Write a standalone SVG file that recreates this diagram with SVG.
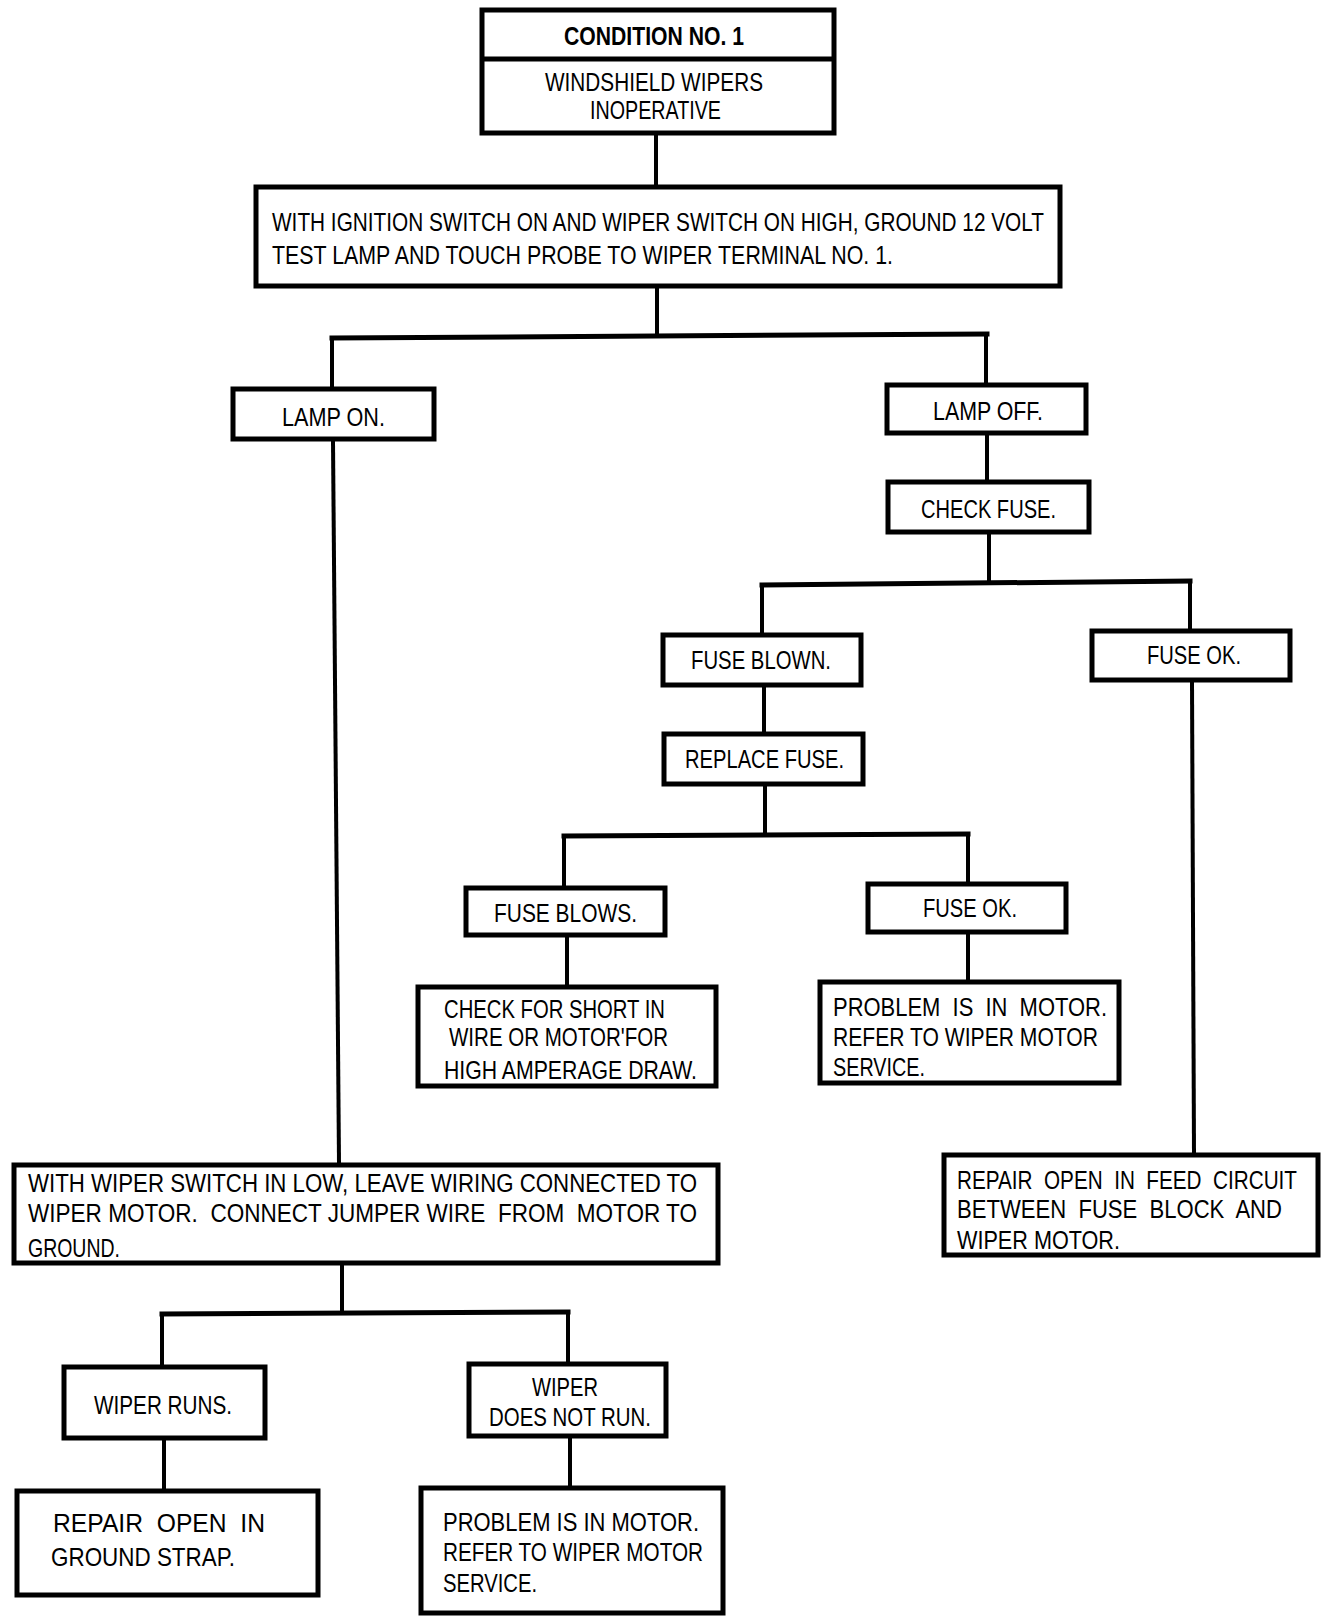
<svg xmlns="http://www.w3.org/2000/svg" width="1328" height="1622" viewBox="0 0 1328 1622">
<style>
rect{fill:#fff;stroke:#000;stroke-width:5}
.c line,.c path{stroke:#000;stroke-width:4;fill:none;stroke-linecap:square}
text{font-family:"Liberation Sans Narrow","Liberation Sans",Arial,sans-serif;font-size:25px;fill:#000}
.b{font-weight:bold}
</style>
<rect x="0" y="0" width="1328" height="1622" style="stroke:none"/>
<g class="c" id="connectors">
<line x1="656" y1="135" x2="656" y2="185"/>
<line x1="657" y1="288" x2="657" y2="336"/>
<line x1="332" y1="338" x2="987" y2="334" style="stroke-width:5"/>
<line x1="332" y1="338" x2="332" y2="387"/>
<line x1="986" y1="334" x2="986" y2="383"/>
<line x1="987" y1="435" x2="987" y2="480"/>
<line x1="989" y1="534" x2="989" y2="583"/>
<line x1="762" y1="585" x2="1190" y2="581" style="stroke-width:5"/>
<line x1="762" y1="585" x2="762" y2="633"/>
<line x1="1190" y1="581" x2="1190" y2="629"/>
<line x1="764" y1="687" x2="764" y2="732"/>
<line x1="765" y1="786" x2="765" y2="835"/>
<line x1="564" y1="836" x2="968" y2="834" style="stroke-width:5"/>
<line x1="564" y1="836" x2="564" y2="886"/>
<line x1="968" y1="834" x2="968" y2="882"/>
<line x1="567" y1="937" x2="567" y2="985"/>
<line x1="968" y1="934" x2="968" y2="980"/>
<line x1="333" y1="441" x2="339" y2="1163"/>
<line x1="1192" y1="682" x2="1194" y2="1153"/>
<line x1="342" y1="1265" x2="342" y2="1313"/>
<line x1="162" y1="1314" x2="568" y2="1312" style="stroke-width:5"/>
<line x1="162" y1="1314" x2="162" y2="1365"/>
<line x1="568" y1="1312" x2="568" y2="1362"/>
<line x1="164" y1="1440" x2="164" y2="1489"/>
<line x1="570" y1="1438" x2="570" y2="1486"/>
</g>
<g id="condition">
<rect x="482" y="10" width="352" height="123"/>
<line x1="482" y1="59" x2="834" y2="59" style="stroke:#000;stroke-width:5"/>
<text class="b" x="564" y="45" textLength="180" lengthAdjust="spacingAndGlyphs">CONDITION NO. 1</text>
<text x="545" y="91" textLength="218" lengthAdjust="spacingAndGlyphs">WINDSHIELD WIPERS</text>
<text x="590" y="119" textLength="131" lengthAdjust="spacingAndGlyphs">INOPERATIVE</text>
</g>
<g id="test">
<rect x="256" y="187" width="804" height="99"/>
<text x="272" y="231" textLength="772" lengthAdjust="spacingAndGlyphs">WITH IGNITION SWITCH ON AND WIPER SWITCH ON HIGH, GROUND 12 VOLT</text>
<text x="272" y="264" textLength="621" lengthAdjust="spacingAndGlyphs">TEST LAMP AND TOUCH PROBE TO WIPER TERMINAL NO. 1.</text>
</g>
<g id="lampon">
<rect x="233" y="389" width="201" height="50"/>
<text x="282" y="426" textLength="103" lengthAdjust="spacingAndGlyphs">LAMP ON.</text>
</g>
<g id="lampoff">
<rect x="887" y="385" width="199" height="48"/>
<text x="933" y="420" textLength="110" lengthAdjust="spacingAndGlyphs">LAMP OFF.</text>
</g>
<g id="checkfuse">
<rect x="888" y="482" width="201" height="50"/>
<text x="921" y="518" textLength="135" lengthAdjust="spacingAndGlyphs">CHECK FUSE.</text>
</g>
<g id="fuseblown">
<rect x="663" y="635" width="198" height="50"/>
<text x="691" y="669" textLength="140" lengthAdjust="spacingAndGlyphs">FUSE BLOWN.</text>
</g>
<g id="fuseok1">
<rect x="1092" y="631" width="198" height="49"/>
<text x="1147" y="664" textLength="94" lengthAdjust="spacingAndGlyphs">FUSE OK.</text>
</g>
<g id="replacefuse">
<rect x="664" y="734" width="199" height="50"/>
<text x="685" y="768" textLength="159" lengthAdjust="spacingAndGlyphs">REPLACE FUSE.</text>
</g>
<g id="fuseblows">
<rect x="466" y="888" width="199" height="47"/>
<text x="494" y="922" textLength="143" lengthAdjust="spacingAndGlyphs">FUSE BLOWS.</text>
</g>
<g id="fuseok2">
<rect x="868" y="884" width="198" height="48"/>
<text x="923" y="917" textLength="94" lengthAdjust="spacingAndGlyphs">FUSE OK.</text>
</g>
<g id="checkshort">
<rect x="418" y="987" width="298" height="99"/>
<text x="444" y="1018" textLength="221" lengthAdjust="spacingAndGlyphs">CHECK FOR SHORT IN</text>
<text x="449" y="1046" textLength="219" lengthAdjust="spacingAndGlyphs">WIRE OR MOTOR'FOR</text>
<text x="444" y="1079" textLength="253" lengthAdjust="spacingAndGlyphs">HIGH AMPERAGE DRAW.</text>
</g>
<g id="motor1">
<rect x="820" y="982" width="299" height="101"/>
<text x="833" y="1016" textLength="274" lengthAdjust="spacingAndGlyphs" xml:space="preserve">PROBLEM  IS  IN  MOTOR.</text>
<text x="833" y="1046" textLength="265" lengthAdjust="spacingAndGlyphs">REFER TO WIPER MOTOR</text>
<text x="833" y="1076" textLength="92" lengthAdjust="spacingAndGlyphs">SERVICE.</text>
</g>
<g id="lowtest">
<rect x="14" y="1165" width="704" height="98"/>
<text x="28" y="1192" textLength="669" lengthAdjust="spacingAndGlyphs">WITH WIPER SWITCH IN LOW, LEAVE WIRING CONNECTED TO</text>
<text x="28" y="1222" textLength="669" lengthAdjust="spacingAndGlyphs" xml:space="preserve">WIPER MOTOR.  CONNECT JUMPER WIRE  FROM  MOTOR TO</text>
<text x="28" y="1257" textLength="92" lengthAdjust="spacingAndGlyphs">GROUND.</text>
</g>
<g id="feed">
<rect x="944" y="1155" width="374" height="100"/>
<text x="957" y="1189" textLength="340" lengthAdjust="spacingAndGlyphs" xml:space="preserve">REPAIR  OPEN  IN  FEED  CIRCUIT</text>
<text x="957" y="1218" textLength="325" lengthAdjust="spacingAndGlyphs" xml:space="preserve">BETWEEN  FUSE  BLOCK  AND</text>
<text x="957" y="1249" textLength="163" lengthAdjust="spacingAndGlyphs">WIPER MOTOR.</text>
</g>
<g id="wiperruns">
<rect x="64" y="1367" width="201" height="71"/>
<text x="94" y="1414" textLength="138" lengthAdjust="spacingAndGlyphs">WIPER RUNS.</text>
</g>
<g id="notrun">
<rect x="469" y="1364" width="197" height="72"/>
<text x="532" y="1396" textLength="66" lengthAdjust="spacingAndGlyphs">WIPER</text>
<text x="489" y="1426" textLength="162" lengthAdjust="spacingAndGlyphs">DOES NOT RUN.</text>
</g>
<g id="groundstrap">
<rect x="17" y="1491" width="301" height="104"/>
<text x="53" y="1532" textLength="212" lengthAdjust="spacingAndGlyphs" xml:space="preserve">REPAIR  OPEN  IN</text>
<text x="51" y="1566" textLength="184" lengthAdjust="spacingAndGlyphs">GROUND STRAP.</text>
</g>
<g id="motor2">
<rect x="421" y="1488" width="302" height="125"/>
<text x="443" y="1531" textLength="256" lengthAdjust="spacingAndGlyphs">PROBLEM IS IN MOTOR.</text>
<text x="443" y="1561" textLength="260" lengthAdjust="spacingAndGlyphs">REFER TO WIPER MOTOR</text>
<text x="443" y="1592" textLength="94" lengthAdjust="spacingAndGlyphs">SERVICE.</text>
</g>
</svg>
